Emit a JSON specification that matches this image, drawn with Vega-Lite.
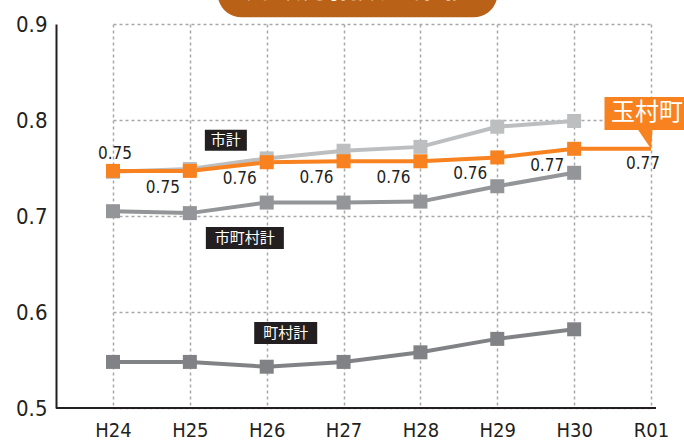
{
  "$schema": "https://vega.github.io/schema/vega-lite/v6.json",
  "width": 600,
  "height": 384,
  "autosize": {"type": "none"},
  "padding": {"left": 56, "top": 24, "right": 28, "bottom": 35},
  "background": "white",
  "config": {"view": {"stroke": null}, "font": "DejaVu Sans Condensed, Roboto"},
  "datasets": {
    "main": [
      {"year": "H24", "series": "町村計", "value": 0.548},
      {"year": "H25", "series": "町村計", "value": 0.548},
      {"year": "H26", "series": "町村計", "value": 0.543},
      {"year": "H27", "series": "町村計", "value": 0.548},
      {"year": "H28", "series": "町村計", "value": 0.558},
      {"year": "H29", "series": "町村計", "value": 0.572},
      {"year": "H30", "series": "町村計", "value": 0.582},
      {"year": "H24", "series": "市町村計", "value": 0.705},
      {"year": "H25", "series": "市町村計", "value": 0.703},
      {"year": "H26", "series": "市町村計", "value": 0.714},
      {"year": "H27", "series": "市町村計", "value": 0.714},
      {"year": "H28", "series": "市町村計", "value": 0.715},
      {"year": "H29", "series": "市町村計", "value": 0.731},
      {"year": "H30", "series": "市町村計", "value": 0.745},
      {"year": "H24", "series": "市計", "value": 0.746},
      {"year": "H25", "series": "市計", "value": 0.749},
      {"year": "H26", "series": "市計", "value": 0.760},
      {"year": "H27", "series": "市計", "value": 0.768},
      {"year": "H28", "series": "市計", "value": 0.772},
      {"year": "H29", "series": "市計", "value": 0.793},
      {"year": "H30", "series": "市計", "value": 0.799},
      {"year": "H24", "series": "玉村町", "value": 0.747},
      {"year": "H25", "series": "玉村町", "value": 0.747},
      {"year": "H26", "series": "玉村町", "value": 0.756},
      {"year": "H27", "series": "玉村町", "value": 0.757},
      {"year": "H28", "series": "玉村町", "value": 0.757},
      {"year": "H29", "series": "玉村町", "value": 0.761},
      {"year": "H30", "series": "玉村町", "value": 0.770},
      {"year": "R01", "series": "玉村町", "value": 0.770}
    ],
    "names": [
      {"name": "市計", "year": "H25", "value": 0.779},
      {"name": "市町村計", "year": "H25", "value": 0.677},
      {"name": "町村計", "year": "H26", "value": 0.578},
      {"name": "玉村町", "year": "R01", "value": 0.8068},
      {"name": "財政力指数の推移", "year": "H27", "value": 0.934}
    ]
  },
  "encoding": {
    "x": {
      "field": "year", "type": "ordinal",
      "scale": {"type": "point", "padding": 0, "domain": ["H24", "H25", "H26", "H27", "H28", "H29", "H30", "R01"], "range": [57, 595]},
      "axis": {
        "title": null, "labelAngle": 0, "ticks": false, "labelFontSize": 20, "labelColor": "#231f20",
        "labelPadding": 12, "domain": false,
        "grid": true, "gridDash": [3, 3], "gridColor": "#a7a9ac", "gridWidth": 1.5
      }
    },
    "y": {
      "field": "value", "type": "quantitative",
      "scale": {"domain": [0.5, 0.9], "zero": false, "nice": false},
      "axis": {
        "title": null, "values": [0.5, 0.6, 0.7, 0.8, 0.9], "format": ".1f", "ticks": false,
        "labelFontSize": 22, "labelColor": "#231f20", "labelPadding": 9,
        "domainColor": "#231f20", "domainWidth": 2,
        "grid": true, "gridDash": [3, 3], "gridColor": "#a7a9ac", "gridWidth": 1.5
      }
    }
  },
  "layer": [
    {
      "data": {"values": [{"base": 0.5}]},
      "mark": {"type": "rule", "color": "#231f20", "strokeWidth": 2},
      "encoding": {"x": null, "y": {"field": "base", "type": "quantitative"}}
    },
    {
      "data": {"name": "main"},
      "mark": {"type": "line", "strokeWidth": 4, "clip": false},
      "encoding": {
        "color": {"field": "series", "type": "nominal", "legend": null,
          "scale": {"domain": ["町村計", "市町村計", "市計", "玉村町"], "range": ["#808285", "#939598", "#bcbec0", "#f7821f"]}},
        "order": {"field": "year"},
        "detail": {"field": "series"}
      }
    },
    {
      "data": {"name": "main"},
      "transform": [{"filter": "datum.series !== '玉村町'"}],
      "mark": {"type": "point", "shape": "square", "filled": true, "opacity": 1, "size": 196},
      "encoding": {
        "color": {"field": "series", "type": "nominal", "legend": null,
          "scale": {"domain": ["町村計", "市町村計", "市計", "玉村町"], "range": ["#808285", "#939598", "#bcbec0", "#f7821f"]}}
      }
    },
    {
      "data": {"name": "main"},
      "transform": [{"filter": "datum.series === '玉村町' && datum.year !== 'R01'"}],
      "mark": {"type": "point", "shape": "square", "filled": true, "opacity": 1, "size": 196, "color": "#f7821f"}
    },
    {
      "data": {"name": "main"},
      "transform": [{"filter": "datum.series === '玉村町' && datum.year === 'H24'"}],
      "mark": {"type": "text", "dx": 2, "dy": -17, "fontSize": 17, "color": "#231f20"},
      "encoding": {"text": {"field": "value", "format": ".2f"}}
    },
    {
      "data": {"name": "main"},
      "transform": [{"filter": "datum.series === '玉村町' && datum.year !== 'H24' && datum.year !== 'R01'"}],
      "mark": {"type": "text", "dx": -27, "dy": 17, "fontSize": 17, "color": "#231f20"},
      "encoding": {"text": {"field": "value", "format": ".2f"}}
    },
    {
      "data": {"name": "main"},
      "transform": [{"filter": "datum.series === '玉村町' && datum.year === 'R01'"}],
      "mark": {"type": "text", "dx": -8, "dy": 15, "fontSize": 17, "color": "#231f20"},
      "encoding": {"text": {"field": "value", "format": ".2f"}}
    },
    {
      "data": {"name": "names"},
      "transform": [{"filter": "datum.name === '市計'"}],
      "mark": {"type": "rect", "width": 42, "height": 21, "xOffset": 36, "color": "#231f20"}
    },
    {
      "data": {"name": "names"},
      "transform": [{"filter": "datum.name === '市町村計'"}],
      "mark": {"type": "rect", "width": 78, "height": 22, "xOffset": 55, "color": "#231f20"}
    },
    {
      "data": {"name": "names"},
      "transform": [{"filter": "datum.name === '町村計'"}],
      "mark": {"type": "rect", "width": 63, "height": 22, "xOffset": 19, "color": "#231f20"}
    },
    {
      "data": {"name": "names"},
      "transform": [{"filter": "datum.name === '市計'"}],
      "mark": {"type": "text", "xOffset": 36, "fontSize": 15, "color": "white", "font": "Noto Sans CJK JP"},
      "encoding": {"text": {"field": "name"}}
    },
    {
      "data": {"name": "names"},
      "transform": [{"filter": "datum.name === '市町村計'"}],
      "mark": {"type": "text", "xOffset": 55, "fontSize": 15, "color": "white", "font": "Noto Sans CJK JP"},
      "encoding": {"text": {"field": "name"}}
    },
    {
      "data": {"name": "names"},
      "transform": [{"filter": "datum.name === '町村計'"}],
      "mark": {"type": "text", "xOffset": 19, "fontSize": 15, "color": "white", "font": "Noto Sans CJK JP"},
      "encoding": {"text": {"field": "name"}}
    },
    {
      "data": {"name": "main"},
      "transform": [{"filter": "datum.series === '玉村町' && datum.year === 'R01'"}],
      "mark": {"type": "point", "shape": "M0,0 L-1.3,-1.9 L0.15,-1.9 Z", "size": 400, "filled": true, "opacity": 1, "color": "#f7821f", "strokeWidth": 0}
    },
    {
      "data": {"name": "names"},
      "transform": [{"filter": "datum.name === '玉村町'"}],
      "mark": {"type": "rect", "width": 85, "height": 33, "xOffset": -4, "color": "#f7821f", "clip": false}
    },
    {
      "data": {"name": "names"},
      "transform": [{"filter": "datum.name === '玉村町'"}],
      "mark": {"type": "text", "xOffset": -4, "fontSize": 24, "color": "white", "font": "Noto Sans CJK JP"},
      "encoding": {"text": {"field": "name"}}
    },
    {
      "data": {"name": "names"},
      "transform": [{"filter": "datum.name === '財政力指数の推移'"}],
      "mark": {"type": "rect", "width": 280, "height": 52, "xOffset": 14, "cornerRadius": 24, "color": "#b86117", "clip": false}
    },
    {
      "data": {"name": "names"},
      "transform": [{"filter": "datum.name === '財政力指数の推移'"}],
      "mark": {"type": "text", "xOffset": 14, "dy": -1, "fontSize": 28, "fontWeight": "bold", "color": "white", "font": "Noto Sans CJK JP"},
      "encoding": {"text": {"field": "name"}}
    }
  ]
}
